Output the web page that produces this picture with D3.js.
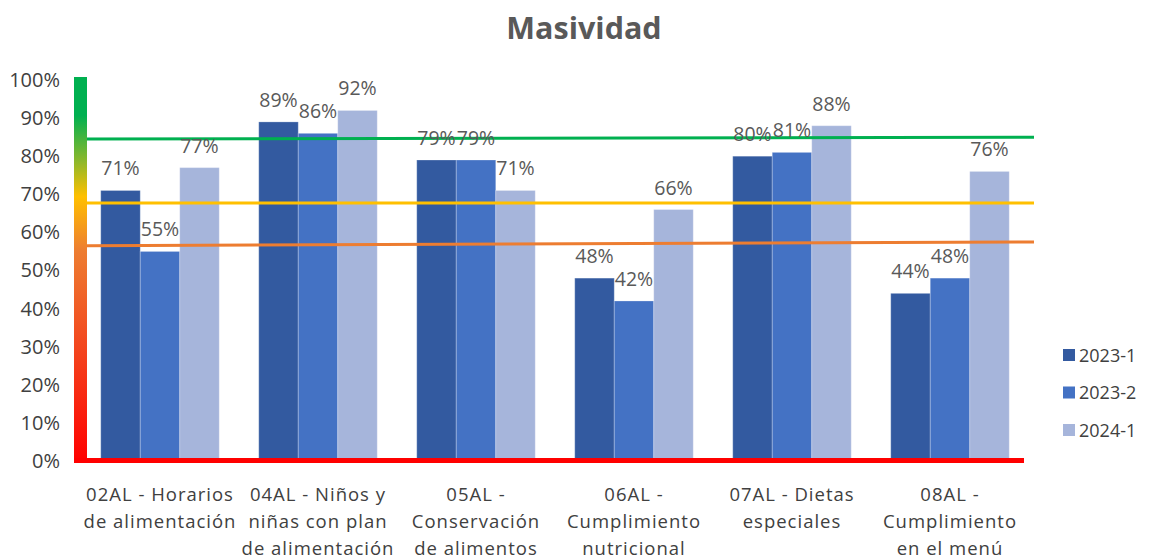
<!DOCTYPE html>
<html><head><meta charset="utf-8">
<script src="https://cdn.jsdelivr.net/npm/d3@7"></script>
<style>body{margin:0;background:#fff}svg{display:block;font-family:"Open Sans","Noto Sans",sans-serif}</style>
</head><body><svg id="c" width="1154" height="560"></svg>
<script>
const categories = [
  ["02AL - Horarios","de alimentación"],
  ["04AL - Niños y","niñas con plan","de alimentación"],
  ["05AL -","Conservación","de alimentos"],
  ["06AL -","Cumplimiento","nutricional"],
  ["07AL - Dietas","especiales"],
  ["08AL -","Cumplimiento","en el menú"]
];
const seriesNames = ["2023-1","2023-2","2024-1"];
const s2023_1 = [0.71,0.89,0.79,0.48,0.80,0.44];
const s2023_2 = [0.55,0.86,0.79,0.42,0.81,0.48];
const s2024_1 = [0.77,0.92,0.71,0.66,0.88,0.76];
const yTicks = [0,0.1,0.2,0.3,0.4,0.5,0.6,0.7,0.8,0.9,1.0];
const thresholdStart = [0.845,0.677,0.565];
const thresholdEnd = [0.85,0.677,0.575];
const thresholdColors = ["#00b050","#ffc000","#ed7d31"];
const colors = ["#335aa0","#4472c4","#a6b5db"];

const svg = d3.select("#c");
const x0 = d3.scaleBand().domain(d3.range(categories.length)).range([81,1029]).paddingInner(0.25).paddingOuter(0.125);
const x1 = d3.scaleBand().domain(d3.range(3)).range([0,x0.bandwidth()]);
const y = d3.scaleLinear().domain([0,1]).range([461,80]);
const series=[s2023_1,s2023_2,s2024_1];

svg.append("text").attr("x",584).attr("y",39).attr("text-anchor","middle")
  .attr("font-size",30.5).attr("font-weight","bold").attr("fill","#595959").text("Masividad");

// y tick labels
const ya = svg.append("g").attr("transform","translate(68,0)")
  .call(d3.axisLeft(y).tickValues(yTicks).tickFormat(d3.format(".0%")).tickSize(0).tickPadding(8));
ya.select(".domain").remove();
ya.selectAll("text").attr("font-size",20).attr("fill","#404040").attr("font-family",'"Open Sans",sans-serif');

// gradient
const defs=svg.append("defs");
const g=defs.append("linearGradient").attr("id","grad").attr("x1",0).attr("y1",0).attr("x2",0).attr("y2",1);
[[0,"#00b050"],[0.1,"#00b050"],[0.22,"#8fb82a"],[0.31,"#ffc000"],[0.45,"#ed7d31"],[0.7,"#f3461e"],[1,"#ff0000"]]
  .forEach(s=>g.append("stop").attr("offset",s[0]).attr("stop-color",s[1]));
svg.append("rect").attr("x",74).attr("y",y(1)-3).attr("width",13).attr("height",y(0)-y(1)+5).attr("fill","url(#grad)");

// bars
const gg = svg.append("g");
categories.forEach((c,i)=>{
  series.forEach((s,j)=>{
    gg.append("rect").attr("x",x0(i)+x1(j)).attr("y",y(s[i])).attr("width",x1.bandwidth())
      .attr("height",y(0)-y(s[i])).attr("fill",colors[j]).attr("stroke","#ffffff").attr("stroke-opacity",0.25).attr("stroke-width",1);
  });
});

// bottom red line
svg.append("rect").attr("x",74).attr("y",y(0)-3).attr("width",1024-74).attr("height",5).attr("fill","#ff0000");

// thresholds
thresholdStart.forEach((t,k)=>{
  svg.append("line").attr("x1",87).attr("x2",1034).attr("y1",y(t)).attr("y2",y(thresholdEnd[k]))
    .attr("stroke",thresholdColors[k]).attr("stroke-width",3);
});

// data labels
categories.forEach((c,i)=>{
  series.forEach((s,j)=>{
    svg.append("text").attr("x",x0(i)+x1(j)+x1.bandwidth()/2).attr("y",y(s[i])-15)
      .attr("text-anchor","middle").attr("font-size",19.5).attr("fill","#595959")
      .text(Math.round(s[i]*100)+"%");
  });
});

// x labels
categories.forEach((c,i)=>{
  const cx=x0(i)+x0.bandwidth()/2;
  const t=svg.append("text").attr("x",cx).attr("y",501).attr("text-anchor","middle")
    .attr("font-size",18.5).attr("letter-spacing",1).attr("fill","#404040");
  c.forEach((l,k)=>t.append("tspan").attr("x",cx).attr("dy",k?27:0).text(l));
});

// legend
seriesNames.forEach((n,j)=>{
  const yy=355+j*37.5;
  svg.append("rect").attr("x",1063).attr("y",yy-6).attr("width",12).attr("height",12).attr("fill",colors[j]);
  svg.append("text").attr("x",1079).attr("y",yy+6.5).attr("font-size",18).attr("fill","#404040").text(n);
});
</script></body></html>
